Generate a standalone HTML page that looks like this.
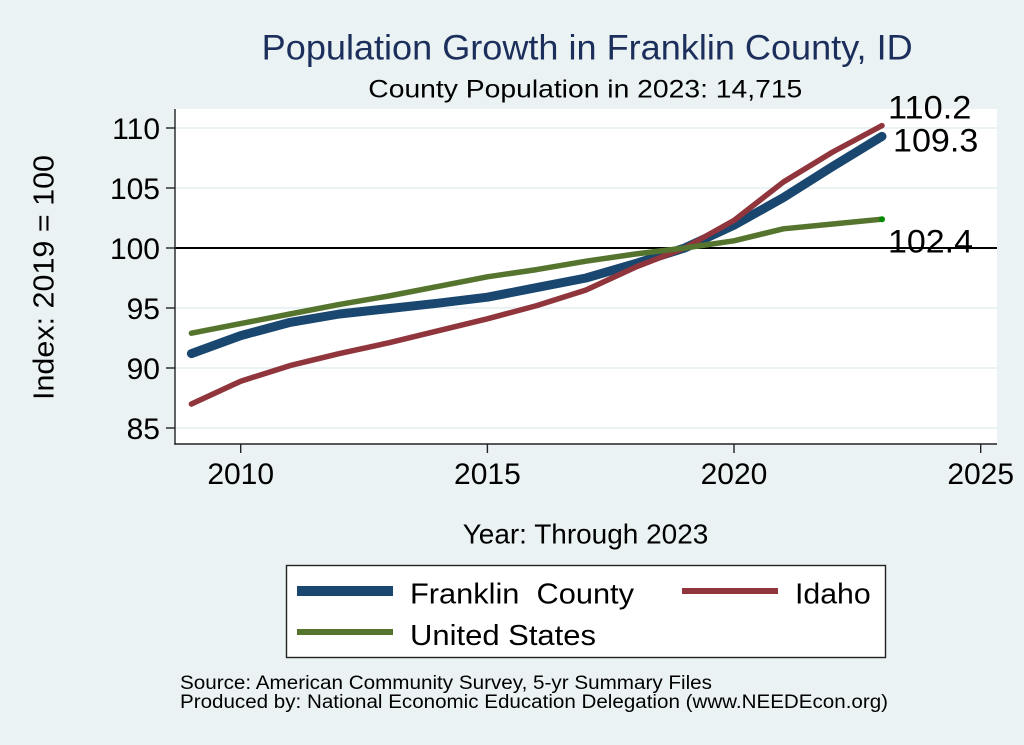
<!DOCTYPE html>
<html>
<head>
<meta charset="utf-8">
<style>
html,body{margin:0;padding:0;background:#eaf2f3;}
svg{display:block;}
text{font-family:"Liberation Sans",Arial,Helvetica,sans-serif;}
</style>
</head>
<body>
<svg width="1024" height="745" viewBox="0 0 1024 745" xmlns="http://www.w3.org/2000/svg">
<rect x="0" y="0" width="1024" height="745" fill="#eaf2f3"/>
<!-- plot region -->
<rect x="175" y="109" width="822" height="335" fill="#ffffff"/>
<!-- gridlines -->
<g stroke="#eaf2f3" stroke-width="2">
<line x1="175" y1="128" x2="997" y2="128"/>
<line x1="175" y1="188" x2="997" y2="188"/>
<line x1="175" y1="308" x2="997" y2="308"/>
<line x1="175" y1="368" x2="997" y2="368"/>
<line x1="175" y1="428" x2="997" y2="428"/>
</g>
<!-- reference line at 100 -->
<line x1="175" y1="248" x2="997" y2="248" stroke="#000" stroke-width="2"/>
<!-- axes -->
<g stroke="#222" stroke-width="1.4">
<line x1="175" y1="109" x2="175" y2="444.7"/>
<line x1="174.3" y1="444" x2="997" y2="444"/>
<line x1="166" y1="128" x2="175" y2="128"/>
<line x1="166" y1="188" x2="175" y2="188"/>
<line x1="166" y1="248" x2="175" y2="248"/>
<line x1="166" y1="308" x2="175" y2="308"/>
<line x1="166" y1="368" x2="175" y2="368"/>
<line x1="166" y1="428" x2="175" y2="428"/>
<line x1="240.7" y1="444" x2="240.7" y2="453"/>
<line x1="487.4" y1="444" x2="487.4" y2="453"/>
<line x1="734" y1="444" x2="734" y2="453"/>
<line x1="980.7" y1="444" x2="980.7" y2="453"/>
</g>
<!-- y tick labels -->
<g font-size="30" fill="#000" text-anchor="end">
<text x="160" y="139">110</text>
<text x="160" y="199">105</text>
<text x="160" y="259">100</text>
<text x="160" y="319">95</text>
<text x="160" y="379">90</text>
<text x="160" y="439">85</text>
</g>
<!-- x tick labels -->
<g font-size="30" fill="#000" text-anchor="middle">
<text x="240.7" y="484">2010</text>
<text x="487.4" y="484">2015</text>
<text x="734" y="484">2020</text>
<text x="980.7" y="484">2025</text>
</g>
<!-- series -->
<g fill="none" stroke-linecap="round" stroke-linejoin="round">
<!-- Franklin County -->
<polyline stroke="#1a476f" stroke-width="9" points="191.4,353.6 240.7,335.6 290,322.4 339.4,314 388.7,308.6 438,303.2 487.4,297.2 536.7,287.6 586,278 635.4,263.6 684.7,248 734,225.2 783.4,197.6 832.7,166.4 882,136.4"/>
<!-- Idaho -->
<polyline stroke="#90353b" stroke-width="5.5" points="191.4,404 240.7,381.2 290,365.6 339.4,353.6 388.7,342.8 438,330.8 487.4,318.8 536.7,305.6 586,290 635.4,267.2 684.7,248 734,220.4 783.4,182 832.7,152 882,125.6"/>
<!-- United States -->
<polyline stroke="#55752f" stroke-width="5.5" points="191.4,333.2 240.7,323.6 290,314 339.4,304.4 388.7,296 438,286.4 487.4,276.8 536.7,269.6 586,261.2 635.4,254 684.7,248 734,240.8 783.4,228.8 832.7,224 882,219.2"/>
</g>
<circle cx="882" cy="219.2" r="3" fill="#008a00"/>
<!-- data labels -->
<g font-size="32" fill="#000">
<text x="888" y="118.3" textLength="83.4" lengthAdjust="spacingAndGlyphs">110.2</text>
<text x="893" y="151.7" textLength="85.3" lengthAdjust="spacingAndGlyphs">109.3</text>
<text x="888" y="252.7" textLength="85" lengthAdjust="spacingAndGlyphs">102.4</text>
</g>
<!-- titles -->
<text x="261.7" y="59.3" font-size="35" fill="#1c2f5c" textLength="651" lengthAdjust="spacingAndGlyphs">Population Growth in Franklin County, ID</text>
<text x="368.3" y="97.3" font-size="25" fill="#000" textLength="434" lengthAdjust="spacingAndGlyphs">County Population in 2023: 14,715</text>
<text transform="translate(53.5,400) rotate(-90)" x="0" y="0" font-size="29" fill="#000" textLength="245" lengthAdjust="spacingAndGlyphs">Index: 2019 = 100</text>
<text x="462.7" y="543.3" font-size="28" fill="#000" textLength="245.6" lengthAdjust="spacingAndGlyphs">Year: Through 2023</text>
<!-- legend -->
<rect x="286.5" y="565.5" width="599" height="92" fill="#ffffff" stroke="#222" stroke-width="1.4"/>
<line x1="297" y1="591" x2="393" y2="591" stroke="#1a476f" stroke-width="10"/>
<line x1="682" y1="591" x2="778" y2="591" stroke="#90353b" stroke-width="6"/>
<line x1="297" y1="632" x2="393" y2="632" stroke="#55752f" stroke-width="6"/>
<g font-size="29" fill="#000">
<text x="410" y="603.3" textLength="224" lengthAdjust="spacingAndGlyphs" xml:space="preserve">Franklin  County</text>
<text x="795" y="603.3" textLength="75.7" lengthAdjust="spacingAndGlyphs">Idaho</text>
<text x="410" y="645" textLength="186" lengthAdjust="spacingAndGlyphs">United States</text>
</g>
<!-- notes -->
<g font-size="19" fill="#000">
<text x="180" y="689" textLength="532" lengthAdjust="spacingAndGlyphs">Source: American Community Survey, 5-yr Summary Files</text>
<text x="180" y="708" textLength="708" lengthAdjust="spacingAndGlyphs">Produced by: National Economic Education Delegation (www.NEEDEcon.org)</text>
</g>
</svg>
</body>
</html>
